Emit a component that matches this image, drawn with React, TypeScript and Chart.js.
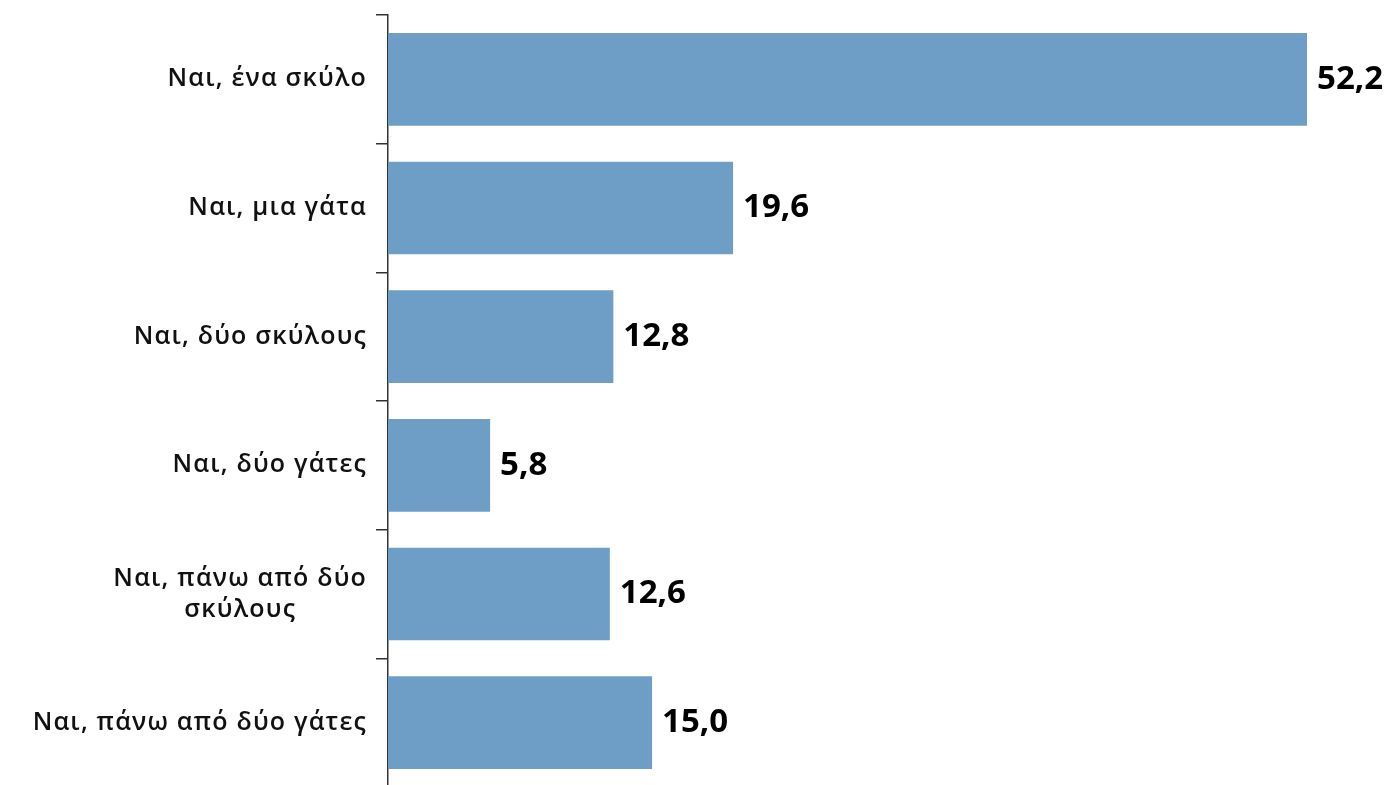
import React, { useEffect, useRef } from "react";
import { Chart, registerables } from "chart.js";

Chart.register(...registerables);

const categories: (string | string[])[] = [
  "Ναι, ένα σκύλο",
  "Ναι, μια γάτα",
  "Ναι, δύο σκύλους",
  "Ναι, δύο γάτες",
  ["Ναι, πάνω από δύο", "σκύλους"],
  "Ναι, πάνω από δύο γάτες",
];
const values: number[] = [52.2, 19.6, 12.8, 5.8, 12.6, 15.0];
const valueLabels: string[] = ["52,2", "19,6", "12,8", "5,8", "12,6", "15,0"];

const labelPlugin = {
  id: "customLabels",
  afterDatasetsDraw(chart: any) {
    const ctx = chart.ctx;
    const meta = chart.getDatasetMeta(0);
    const yScale = chart.scales.y;
    ctx.save();
    // value labels
    ctx.font = "bold 33px 'Open Sans', sans-serif";
    ctx.fillStyle = "#000";
    ctx.textAlign = "left";
    ctx.textBaseline = "middle";
    meta.data.forEach((bar: any, i: number) => {
      ctx.fillText(valueLabels[i], bar.x + 10, bar.y);
    });
    // category labels
    ctx.font = "600 25px 'Open Sans', sans-serif";
    (ctx as any).letterSpacing = "1.2px";
    ctx.fillStyle = "#111";
    const rightX = yScale.right - 21;
    categories.forEach((cat, i) => {
      const cy = yScale.getPixelForValue(i);
      if (Array.isArray(cat)) {
        const lh = 31;
        const widths = cat.map((l) => ctx.measureText(l).width);
        const maxW = Math.max(...widths);
        const centerX = rightX - maxW / 2;
        ctx.textAlign = "center";
        cat.forEach((line, j) => {
          ctx.fillText(line, centerX, cy + (j - (cat.length - 1) / 2) * lh);
        });
      } else {
        ctx.textAlign = "right";
        ctx.fillText(cat, rightX, cy);
      }
    });
    ctx.restore();
  },
};

export default function App() {
  const ref = useRef<HTMLCanvasElement>(null);
  useEffect(() => {
    if (!ref.current) return;
    const chart = new Chart(ref.current, {
      type: "bar",
      data: {
        labels: categories as any,
        datasets: [
          {
            data: values,
            backgroundColor: "#6E9EC6",
            borderWidth: 0,
            barPercentage: 0.72,
            categoryPercentage: 1,
          },
        ],
      },
      options: {
        indexAxis: "y",
        animation: false,
        responsive: false,
        maintainAspectRatio: false,
        layout: { padding: { top: 15, left: 376, right: 0, bottom: 13 } },
        plugins: {
          legend: { display: false },
          tooltip: { enabled: false },
        },
        scales: {
          x: {
            display: false,
            min: 0,
            max: 56.8,
          },
          y: {
            offset: true,
            ticks: { display: false },
            grid: {
              offset: true,
              drawOnChartArea: false,
              drawTicks: true,
              tickLength: 12,
              color: "#333",
              lineWidth: 1.5,
            },
            border: { display: true, color: "#333", width: 1.5 },
          },
        },
      },
      plugins: [labelPlugin],
    });
    return () => chart.destroy();
  }, []);
  return (
    <div style={{ position: "fixed", left: 0, top: 0, width: 1388, height: 800, background: "#fff" }}>
      <canvas ref={ref} width={1388} height={800} style={{ width: 1388, height: 800 }} />
    </div>
  );
}
